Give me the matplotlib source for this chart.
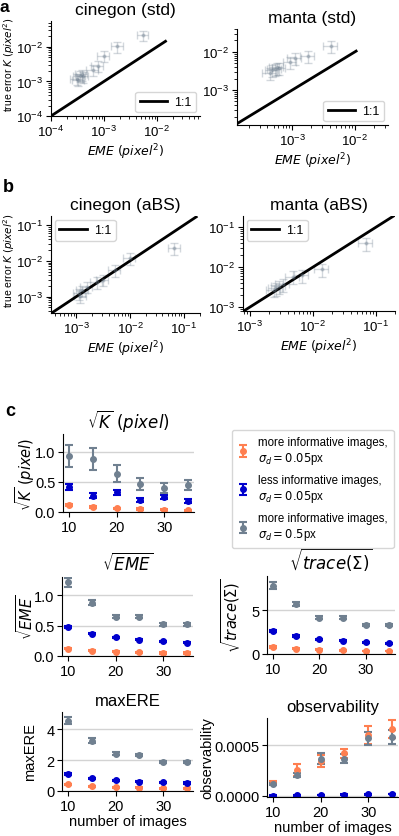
import numpy as np
import matplotlib
matplotlib.use('Agg')
import matplotlib.pyplot as plt

plt.rcParams['font.family'] = ['Liberation Sans', 'DejaVu Sans']
plt.rcParams['font.size'] = 9

# ---- panel a / b data : EME vs true error K
cin_std_x = [3.1e-4, 3.3e-4, 3.5e-4, 3.8e-4, 4.0e-4, 6.2e-4, 7.7e-4, 1.0e-3, 1.8e-3, 5.5e-3]
cin_std_y = [1.2e-3, 1.1e-3, 1.45e-3, 1.6e-3, 1.4e-3, 2.2e-3, 2.8e-3, 5.5e-3, 1.05e-2, 2.2e-2]
man_std_x = [4.4e-4, 4.8e-4, 5.3e-4, 5.7e-4, 6.2e-4, 9.3e-4, 1.1e-3, 1.75e-3, 4.1e-3]
man_std_y = [2.8e-3, 3.4e-3, 3.6e-3, 3.9e-3, 3.8e-3, 5.5e-3, 7.0e-3, 7.8e-3, 1.45e-2]
cin_abs_x = [1.15e-3, 1.2e-3, 1.3e-3, 1.6e-3, 2.4e-3, 3.1e-3, 5.2e-3, 1.0e-2, 6.7e-2]
cin_abs_y = [1.25e-3, 1.05e-3, 1.5e-3, 1.9e-3, 2.6e-3, 3.0e-3, 5.6e-3, 1.2e-2, 2.3e-2]
man_abs_x = [2.4e-3, 2.6e-3, 2.9e-3, 3.3e-3, 4.8e-3, 6.6e-3, 1.4e-2, 6.9e-2]
man_abs_y = [2.7e-3, 3.0e-3, 3.3e-3, 3.7e-3, 5.8e-3, 6.3e-3, 8.9e-3, 4.0e-2]
rel_xerr = 0.25
rel_yerr = 0.35
line_cin_std = [1e-4, 1.45e-2]
line_man_std = [1.3e-4, 1.05e-2]
line_cin_abs = [3.4e-4, 0.17]
line_man_abs = [7.8e-4, 0.19]

# ---- panel c data
n_images = [10, 15, 20, 25, 30, 35]
labels_c = ['more informative images,\n$\\sigma_d = 0.05$px',
            'less informative images,\n$\\sigma_d = 0.05$px',
            'more informative images,\n$\\sigma_d = 0.5$px']
colors_c = ['coral', 'mediumblue', 'slategray']

sqrtK = [[0.12, 0.08, 0.06, 0.05, 0.04, 0.03],
         [0.42, 0.27, 0.33, 0.20, 0.25, 0.18],
         [0.93, 0.88, 0.64, 0.47, 0.40, 0.45]]
sqrtK_err = [[0.02, 0.015, 0.01, 0.01, 0.01, 0.01],
             [0.05, 0.04, 0.04, 0.03, 0.04, 0.03],
             [0.18, 0.18, 0.14, 0.10, 0.09, 0.09]]
sqrtEME = [[0.12, 0.09, 0.07, 0.06, 0.05, 0.05],
           [0.48, 0.37, 0.31, 0.27, 0.24, 0.22],
           [1.21, 0.88, 0.65, 0.65, 0.52, 0.52]]
sqrtEME_err = [[0.01, 0.01, 0.01, 0.01, 0.01, 0.01],
               [0.02, 0.01, 0.01, 0.01, 0.01, 0.01],
               [0.07, 0.04, 0.03, 0.03, 0.02, 0.02]]
sqrtTr = [[0.80, 0.62, 0.48, 0.42, 0.36, 0.32],
          [2.65, 2.05, 1.68, 1.50, 1.35, 1.25],
          [7.8, 5.7, 4.15, 4.15, 3.3, 3.3]]
sqrtTr_err = [[0.06, 0.05, 0.04, 0.04, 0.03, 0.03],
              [0.12, 0.09, 0.08, 0.07, 0.07, 0.06],
              [0.40, 0.25, 0.15, 0.15, 0.12, 0.12]]
maxERE = [[0.43, 0.31, 0.25, 0.22, 0.18, 0.17],
          [1.08, 0.82, 0.68, 0.60, 0.55, 0.52],
          [4.55, 3.25, 2.42, 2.32, 1.85, 1.85]]
maxERE_err = [[0.04, 0.03, 0.03, 0.03, 0.02, 0.02],
              [0.06, 0.05, 0.04, 0.04, 0.04, 0.04],
              [0.25, 0.15, 0.08, 0.08, 0.06, 0.06]]
obs = [[1.3e-4, 2.55e-4, 3.45e-4, 4.2e-4, 6.0e-4, 6.6e-4],
       [0.3e-5, 0.5e-5, 0.8e-5, 1.2e-5, 1.5e-5, 2.0e-5],
       [1.2e-4, 2.1e-4, 3.7e-4, 3.7e-4, 5.7e-4, 5.8e-4]]
obs_err = [[0.15e-4, 0.6e-4, 0.55e-4, 0.45e-4, 0.9e-4, 0.9e-4],
           [0.3e-5, 0.3e-5, 0.3e-5, 0.3e-5, 0.3e-5, 0.3e-5],
           [0.1e-4, 0.2e-4, 0.5e-4, 0.4e-4, 0.65e-4, 0.7e-4]]

W, H = 399, 837
fig = plt.figure(figsize=(W / 100, H / 100), dpi=100)


def add_ax(x0, y0, x1, y1):
    # pixel box (left, top, right, bottom) -> figure fraction
    return fig.add_axes([x0 / W, 1 - y1 / H, (x1 - x0) / W, (y1 - y0) / H])


def despine(ax):
    ax.spines['top'].set_visible(False)
    ax.spines['right'].set_visible(False)


def scatter_panel(ax, xs, ys, line, xlim, ylim, title, legloc, ylabel=True):
    xs = np.array(xs)
    ys = np.array(ys)
    ax.errorbar(xs, ys, xerr=rel_xerr * xs, yerr=rel_yerr * ys, fmt='o', ms=2,
                color='slategray', alpha=0.3, capsize=3, elinewidth=1)
    ax.plot(line, line, color='black', lw=2, label='1:1')
    ax.set_xscale('log')
    ax.set_yscale('log')
    ax.set_xlim(xlim)
    ax.set_ylim(ylim)
    ax.set_title(title, fontsize=12.5, pad=5)
    ax.set_xlabel('$EME$ $(pixel^2)$', fontsize=9, labelpad=2)
    if ylabel:
        ax.set_ylabel('true error $K$ $(pixel^2)$', fontsize=7.5)
        ax.yaxis.set_label_coords(-0.225, 0.55)
    ax.tick_params(labelsize=9.5, pad=2)
    ax.legend(loc=legloc, fontsize=9, handlelength=2.2, borderpad=0.35,
              handletextpad=0.6, borderaxespad=0.3)
    despine(ax)


ax = add_ax(51, 22, 200, 117)
scatter_panel(ax, cin_std_x, cin_std_y, line_cin_std, (1e-4, 0.065), (1e-4, 0.056),
              'cinegon (std)', 'lower right')
ax = add_ax(237, 30, 388, 126)
scatter_panel(ax, man_std_x, man_std_y, line_man_std, (1.3e-4, 0.034), (1.2e-4, 0.04),
              'manta (std)', 'lower right', ylabel=False)
ax = add_ax(51, 217, 200, 314)
scatter_panel(ax, cin_abs_x, cin_abs_y, line_cin_abs, (3.4e-4, 0.2), (3.5e-4, 0.18),
              'cinegon (aBS)', 'upper left')
ax = add_ax(243, 217, 395, 312)
scatter_panel(ax, man_abs_x, man_abs_y, line_man_abs, (7.8e-4, 0.2), (8e-4, 0.19),
              'manta (aBS)', 'upper left', ylabel=False)


def c_panel(ax, vals, errs, title, yticks, ylim, label_x, xlabel=False):
    handles = []
    for v, e, c in zip(vals, errs, colors_c):
        h = ax.errorbar(n_images, v, yerr=e, fmt='o', ms=4, color=c,
                        capsize=3, elinewidth=1.5, capthick=1.5)
        handles.append(h)
    ax.set_title(title, fontsize=12, pad=5)
    ax.set_ylabel(title, fontsize=10.5)
    ax.yaxis.set_label_coords(label_x, 0.5)
    ax.set_yticks(yticks)
    ax.set_ylim(ylim)
    ax.set_xticks([10, 20, 30])
    ax.grid(axis='y', color='lightgray', lw=1)
    ax.set_axisbelow(True)
    ax.tick_params(labelsize=10.5, pad=2)
    if xlabel:
        ax.set_xlabel('number of images', fontsize=10.5, labelpad=1)
    despine(ax)
    return handles


ax = add_ax(63, 435, 194, 513)
hs = c_panel(ax, sqrtK, sqrtK_err, '$\\sqrt{K}$ $(pixel)$', [0, 0.5, 1.0], (0, 1.3), -0.2)
ax = add_ax(62, 578, 193, 657)
c_panel(ax, sqrtEME, sqrtEME_err, '$\\sqrt{EME}$', [0, 0.5, 1.0], (0, 1.3), -0.2)
ax = add_ax(267, 577, 395, 655)
c_panel(ax, sqrtTr, sqrtTr_err, '$\\sqrt{trace(\\Sigma)}$', [0, 5], (0, 8.9), -0.19)
ax = add_ax(62, 713, 193, 792)
c_panel(ax, maxERE, maxERE_err, 'maxERE', [0, 2, 4], (0, 5.1), -0.19, xlabel=True)
ax = add_ax(267, 719, 398, 798)
c_panel(ax, obs, obs_err, 'observability', [0, 0.0005], (-0.00001, 0.00077), -0.40,
        xlabel=True)
ax.set_yticklabels(['0.0000', '0.0005'])

fig.legend(hs, labels_c, loc='upper left', bbox_to_anchor=(226 / W, 1 - 425 / H),
           fontsize=8.3, handlelength=0.9, handletextpad=0.9, labelspacing=0.7,
           borderpad=0.5)

fig.text(0.0, 1 - 8 / H, 'a', fontsize=12.5, fontweight='bold', va='center')
fig.text(3 / W, 1 - 188 / H, 'b', fontsize=13, fontweight='bold', va='center')
fig.text(5 / W, 1 - 412 / H, 'c', fontsize=13, fontweight='bold', va='center')

fig.savefig('out.png', dpi=100)
